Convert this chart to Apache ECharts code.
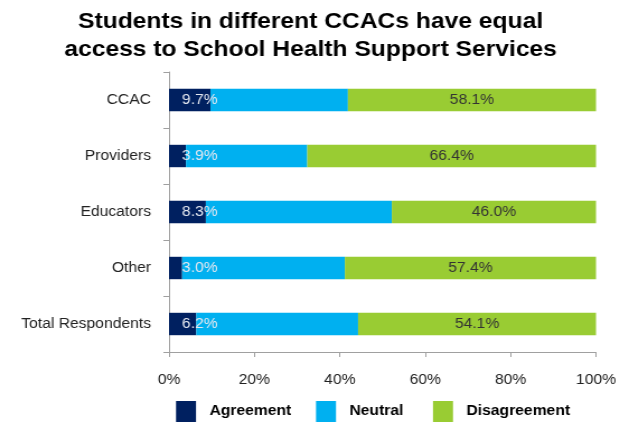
<!DOCTYPE html>
<html>
<head>
<meta charset="utf-8">
<script src="https://cdn.jsdelivr.net/npm/echarts@6/dist/echarts.min.js"></script>
<style>
  html, body { margin: 0; padding: 0; background: #fff; overflow: hidden; }
  #wrap { width: 629px; height: 423px; overflow: hidden; }
  /* chart is laid out narrower and widened to the page width */
  #chart { width: 562px; height: 423px; transform-origin: 0 0; transform: scaleX(1.1192); }
</style>
</head>
<body>
<div id="wrap"><div id="chart"></div></div>
<script>
// Survey groups, top to bottom
const categories = ['CCAC', 'Providers', 'Educators', 'Other', 'Total Respondents'];
// Responses (%) per group; each bar is shown as a 100% stack of these three
const agreement = [9.7, 3.9, 8.3, 3.0, 6.2];
const neutral = [32.2, 27.9, 41.9, 37.2, 36.8];
const disagreement = [58.1, 66.4, 46.0, 57.4, 54.1];
const xTicks = [0, 20, 40, 60, 80, 100];
const legendNames = ['Agreement', 'Neutral', 'Disagreement'];

const font = '"Liberation Sans", Arial, sans-serif';
const SX = 1.1192; // horizontal widening applied to the chart element
const px = x => x / SX;

// share of each response within its own bar
const rowTotals = categories.map((_, i) => agreement[i] + neutral[i] + disagreement[i]);
const share = arr => arr.map((v, i) => v / rowTotals[i] * 100);

const chart = echarts.init(document.getElementById('chart'), null, { renderer: 'canvas' });

function bar(name, raw, color, label) {
  return {
    name: name,
    type: 'bar',
    stack: 'total',
    data: share(raw),
    barWidth: '40%',
    itemStyle: { color: color },
    label: label ? Object.assign({ formatter: p => raw[p.dataIndex].toFixed(1) + '%' }, label) : { show: false },
    emphasis: { disabled: true }
  };
}

const legendLefts = [px(176), px(316), px(433)];

chart.setOption({
  animation: false,
  backgroundColor: '#ffffff',
  title: {
    text: 'Students in different CCACs have equal\naccess to School Health Support Services',
    left: px(305),
    top: 3,
    textAlign: 'center',
    textStyle: { fontFamily: font, fontSize: 22, fontWeight: 'bold', color: '#000', lineHeight: 28 }
  },
  legend: legendNames.map((name, i) => ({
    left: legendLefts[i],
    top: 401,
    padding: 0,
    itemWidth: px(20),
    itemHeight: 21,
    icon: 'rect',
    selectedMode: false,
    textStyle: { fontFamily: font, fontSize: 14, fontWeight: 'bold', color: '#000', padding: [0, 0, 0, 7] },
    data: [name]
  })),
  grid: { left: px(169), right: 562 - px(596), top: 72, bottom: 71, containLabel: false },
  xAxis: {
    type: 'value',
    min: 0,
    max: 100,
    interval: 20,
    axisLine: { show: true, lineStyle: { color: '#a0a0a0', width: 1 } },
    axisTick: { show: true, length: 5, lineStyle: { color: '#a0a0a0' } },
    splitLine: { show: false },
    axisLabel: {
      margin: 21,
      fontFamily: font, fontSize: 14, color: '#222',
      formatter: v => (xTicks.includes(v) ? v + '%' : '')
    }
  },
  yAxis: {
    type: 'category',
    data: categories,
    inverse: true,
    axisLine: { show: true, lineStyle: { color: '#a0a0a0', width: 1 } },
    axisTick: { show: true, length: 5, lineStyle: { color: '#a0a0a0' } },
    axisLabel: { margin: px(18), fontFamily: font, fontSize: 14, color: '#222' }
  },
  series: [
    bar('Agreement', agreement, '#002060', {
      show: true, position: 'insideLeft', distance: px(13),
      fontFamily: font, fontSize: 14, color: '#e4e8f0'
    }),
    bar('Neutral', neutral, '#00B0F0', null),
    bar('Disagreement', disagreement, '#99CC33', {
      show: true, position: 'inside',
      fontFamily: font, fontSize: 14, color: '#333'
    })
  ]
});
</script>
</body>
</html>
